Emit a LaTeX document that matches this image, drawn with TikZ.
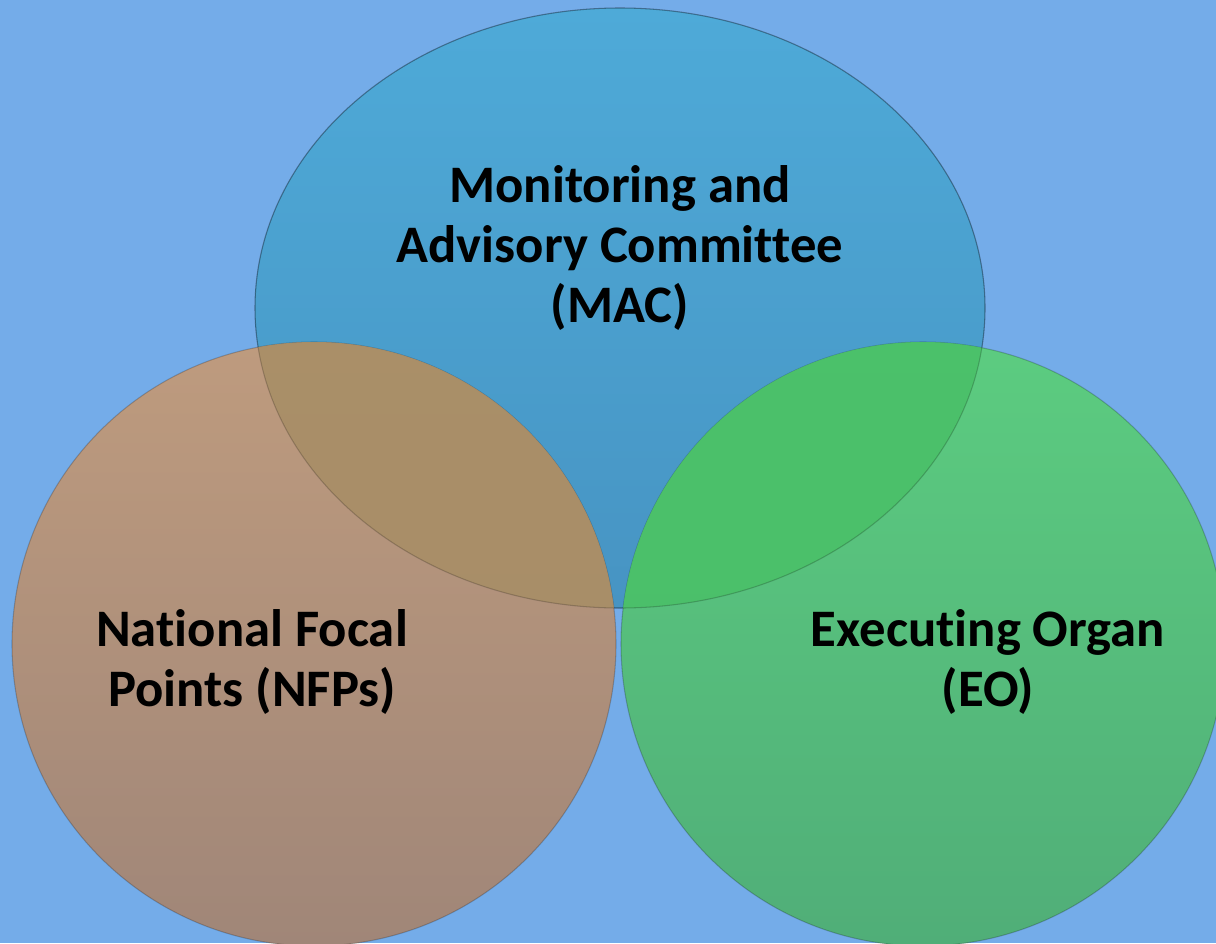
\documentclass[tikz,border=0pt]{standalone}
\usepackage{fontspec}
\setmainfont{Carlito}[Ligatures={NoCommon}]
\definecolor{bgblue}{RGB}{116,172,233}
\definecolor{macTop}{RGB}{78,170,216}
\definecolor{macBot}{RGB}{71,148,195}
\definecolor{nfpTop}{RGB}{190,155,126}
\definecolor{nfpBot}{RGB}{160,134,120}
\definecolor{eoTop}{RGB}{92,204,128}
\definecolor{eoBot}{RGB}{80,174,120}
\definecolor{nfpMac}{RGB}{168,142,102}
\definecolor{eoMac}{RGB}{74,192,104}
\begin{document}
\begin{tikzpicture}[x=0.02cm, y=-0.02cm,
  venn/.style={line width=0.6pt, draw opacity=0.2},
  lens/.style={fill opacity=0.9},
  caption/.style={font=\bfseries\fontsize{30}{34}\selectfont, align=center, text=black},
]
\fill[bgblue] (0,0) rectangle (1216,943);
\clip (0,0) rectangle (1216,943);

% the three sets
\shade[venn, draw=black, top color=macTop, bottom color=macBot]
  (620,308) ellipse [x radius=365, y radius=300];
\shade[venn, draw=black, top color=nfpTop, bottom color=nfpBot]
  (314,644) circle [radius=302];
\shade[venn, draw=black, top color=eoTop, bottom color=eoBot]
  (923,644) circle [radius=302];

% overlaps with the MAC
\begin{scope}
  \clip (620,308) ellipse [x radius=365, y radius=300];
  \fill[lens, nfpMac] (314,644) circle [radius=302];
  \fill[lens, eoMac] (923,644) circle [radius=302];
\end{scope}
\draw[venn, black] (620,308) ellipse [x radius=365, y radius=300];

\node[caption] (mac) at (620,248) {Monitoring and\\Advisory Committee\\(MAC)};
\node[caption] (nfp) at (252,662) {National Focal\\Points (NFPs)};
\node[caption] (eo)  at (988,662) {Executing Organ\\(EO)};
\end{tikzpicture}
\end{document}
